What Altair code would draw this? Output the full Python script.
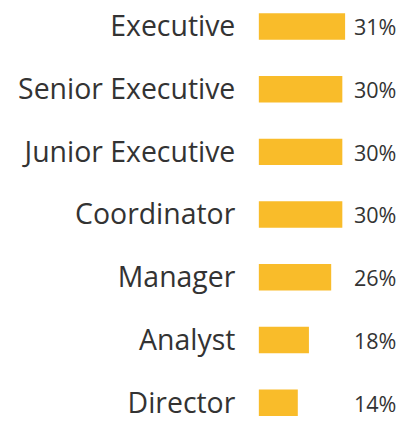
import altair as alt
import pandas as pd

roles = ["Executive", "Senior Executive", "Junior Executive", "Coordinator",
         "Manager", "Analyst", "Director"]
shares = [31, 30, 30, 30, 26, 18, 14]
share_labels = ["31%", "30%", "30%", "30%", "26%", "18%", "14%"]

df = pd.DataFrame({"role": roles, "share": shares, "label": share_labels})

FONT = "Open Sans"
TEXT = "#333333"

y = alt.Y("role:N", sort=roles, axis=None,
          scale=alt.Scale(range=[-41.5, 406.5], paddingInner=0, paddingOuter=0))

base = alt.Chart(df)

bars = base.mark_bar(color="#F9BC2A", size=27).encode(
    y=y,
    x=alt.X("share:Q", axis=None,
            scale=alt.Scale(domain=[0, 100], range=[256, 540], nice=False, zero=True)),
)

names = base.mark_text(align="right", baseline="alphabetic", dy=10,
                       font=FONT, fontSize=29, fontWeight=400, color=TEXT).encode(
    y=y, x=alt.value(232), text="role:N")

pcts = base.mark_text(align="left", baseline="alphabetic", dy=9,
                      font=FONT, fontSize=22, fontWeight=400, color=TEXT).encode(
    y=y, x=alt.value(353), text="label:N")

chart = alt.layer(bars, names, pcts).properties(
    width=397, height=389,
    autosize=alt.AutoSizeParams(type="none"),
    padding={"left": 0, "right": 0, "top": 24, "bottom": 8},
    background="white",
).configure_view(stroke=None)

chart.save("out.html", embed_options={"renderer": "svg", "actions": False})
